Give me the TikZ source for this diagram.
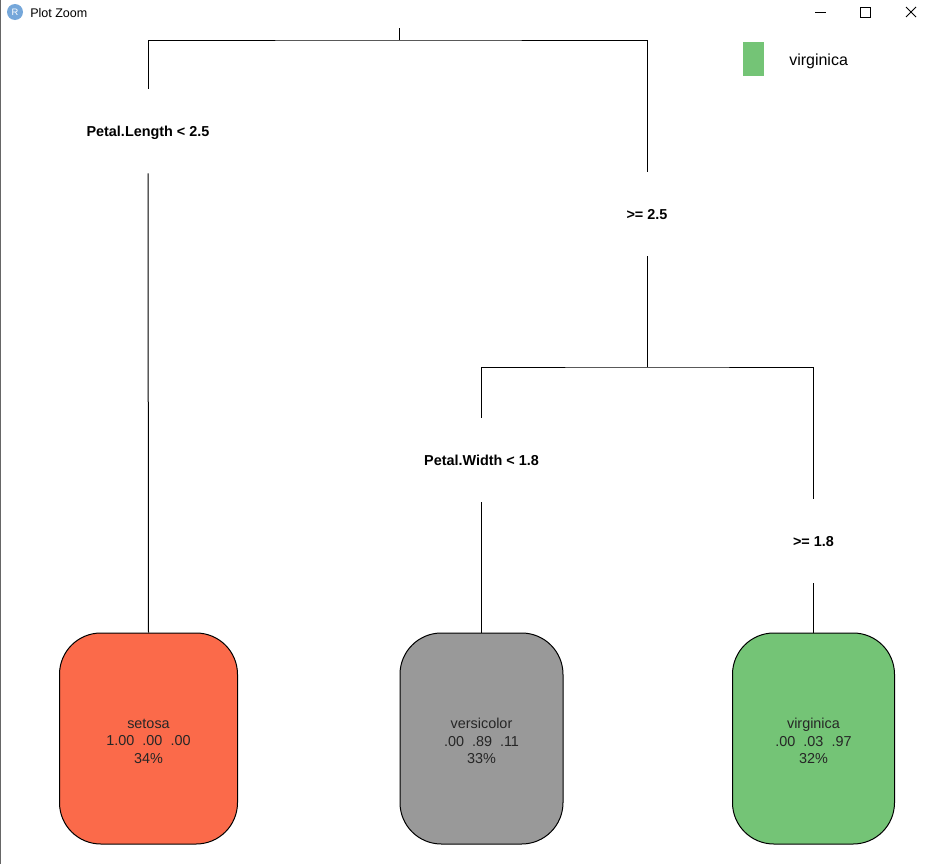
\documentclass[tikz,border=0pt]{standalone}
\usepackage{fontspec}
\setmainfont{Liberation Sans}
\definecolor{rblue}{RGB}{117,167,218}
\definecolor{setosafill}{RGB}{251,106,74}
\definecolor{versifill}{RGB}{153,153,153}
\definecolor{virgifill}{RGB}{116,196,118}
\begin{document}
\begin{tikzpicture}[x=0.75pt,y=-0.75pt,
  edge/.style={line width=0.75pt},
  split/.style={font=\bfseries\fontsize{10.8}{13}\selectfont, minimum height=63pt,
    inner sep=0pt, text depth=0pt},
  leaf/.style={draw=black, line width=0.75pt, rounded corners=31pt,
    minimum height=158.25pt, inner sep=0pt},
  leaftext/.style={align=center, inner sep=0pt, yshift=-2pt,
    font=\fontsize{10.8}{13}\selectfont, text=black!85},
  winctl/.style={line width=0.75pt, black}]
% canvas
\fill[white] (0,0) rectangle (933,864);
\useasboundingbox (0,0) rectangle (933,864);
\draw[black!60, line width=0.75pt] (0.5,0) -- (0.5,864);

% window title bar
\fill[rblue] (15,12) circle (8);
\node[text=white, font=\fontsize{7}{8}\selectfont, inner sep=0pt] (rlogo) at (15,12) {R};
\node[anchor=west, inner sep=0pt, font=\fontsize{9.4}{11}\selectfont] (title) at (30,13) {Plot Zoom};
\draw[winctl] (815,12) -- (826,12);
\draw[winctl] (860.5,7.5) rectangle (870.5,17.5);
\draw[winctl] (906,7) -- (916,17) (906,17) -- (916,7);

% legend
\fill[virgifill] (743,42) rectangle (764,76);
\node[font=\fontsize{12}{14}\selectfont, anchor=west, inner sep=0pt] (legtext) at (789,61.5) {virginica};

% split labels
\node[split] (l1) at (148,131) {Petal.Length < 2.5};
\node[split] (r1) at (647,214) {>= 2.5};
\node[split] (l2) at (481.5,460) {Petal.Width < 1.8};
\node[split] (r2) at (813.5,541) {>= 1.8};

% leaves
\node[leaf, fill=setosafill, minimum width=133.5pt,
  label={[leaftext]center:setosa\\1.00\ \ .00\ \ .00\\34\%}] (setosa) at (148.5,738.5) {};
\node[leaf, fill=versifill, minimum width=122.25pt,
  label={[leaftext]center:versicolor\\.00\ \ .89\ \ .11\\33\%}] (versicolor) at (481.5,738.5) {};
\node[leaf, fill=virgifill, minimum width=121.5pt,
  label={[leaftext]center:virginica\\.00\ \ .03\ \ .97\\32\%}] (virginica) at (813.5,738.5) {};

% junctions
\coordinate (root) at (399,28);
\coordinate (j1) at (399,40);
\coordinate (j2) at (647,367);

% connectors
\draw[edge] (root) -- (j1);
\draw[edge] (l1.north) |- (j1) -| (r1.north);
\draw[edge] (l1.south) -- (setosa.north);
\draw[edge] (r1.south) -- (j2);
\draw[edge] (l2.north) |- (j2) -| (r2.north);
\draw[edge] (l2.south) -- (versicolor.north);
\draw[edge] (r2.south) -- (virginica.north);
\end{tikzpicture}
\end{document}
